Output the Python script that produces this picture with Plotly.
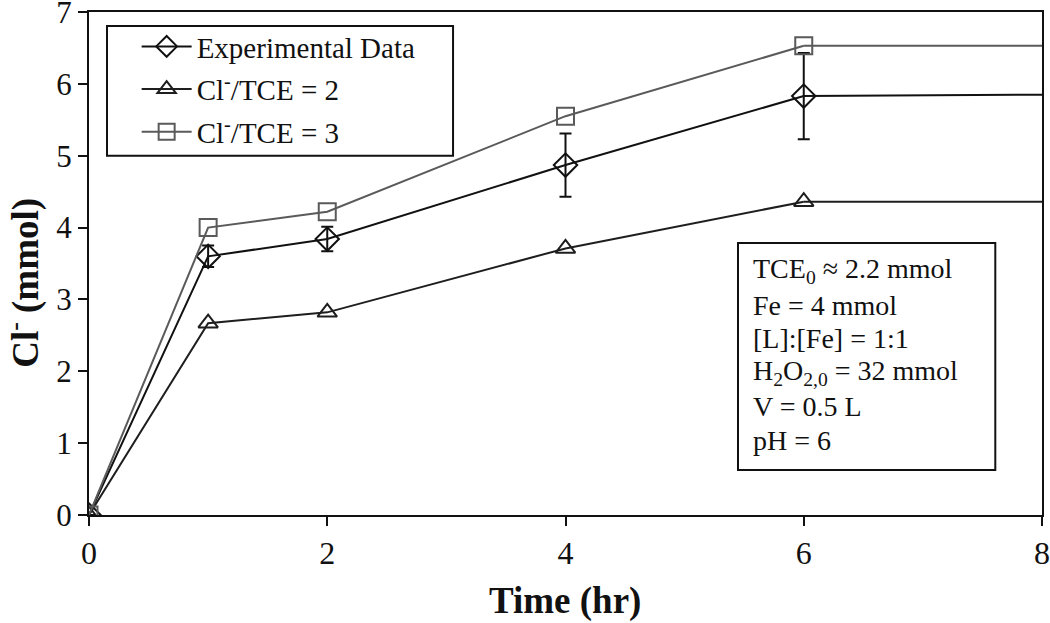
import plotly.graph_objects as go

time_pts = [0, 1, 2, 4, 6]
time_ext = [6, 8]

exp_vals = [0, 3.60, 3.84, 4.87, 5.83]
exp_err = [0, 0.15, 0.17, 0.44, 0.60]
exp_ext = [5.83, 5.85]

r2_vals = [0, 2.67, 2.82, 3.71, 4.36]
r2_ext = [4.36, 4.36]

r3_vals = [0, 4.00, 4.22, 5.55, 6.53]
r3_ext = [6.53, 6.53]

x_ticks = [0, 2, 4, 6, 8]
y_ticks = [0, 1, 2, 3, 4, 5, 6, 7]

info_lines = [
    "TCE<sub>0</sub> ≈ 2.2 mmol",
    "Fe = 4 mmol",
    "[L]:[Fe] = 1:1",
    "H<sub>2</sub>O<sub>2,0</sub> = 32 mmol",
    "V = 0.5 L",
    "pH = 6",
]

FONT = "Liberation Serif, Times New Roman, serif"
BLACK = "#111111"
DARK = "#1e1e1e"
GREY = "#5a5a5a"

fig = go.Figure()

# extension lines (no markers)
fig.add_trace(go.Scatter(x=time_ext, y=r3_ext, mode="lines", line=dict(color=GREY, width=2),
                         showlegend=False, hoverinfo="skip"))
fig.add_trace(go.Scatter(x=time_ext, y=r2_ext, mode="lines", line=dict(color=DARK, width=2),
                         showlegend=False, hoverinfo="skip"))
fig.add_trace(go.Scatter(x=time_ext, y=exp_ext, mode="lines", line=dict(color=BLACK, width=2),
                         showlegend=False, hoverinfo="skip"))

fig.add_trace(go.Scatter(
    x=time_pts, y=exp_vals, mode="lines+markers", name="Experimental Data",
    legendgroup="a",
    line=dict(color=BLACK, width=2),
    marker=dict(symbol="diamond-open", size=18, color=BLACK, line=dict(width=2, color=BLACK)),
    error_y=dict(type="data", array=exp_err, visible=True, color=BLACK, thickness=2, width=6),
))
fig.add_trace(go.Scatter(
    x=time_pts, y=r2_vals, mode="lines+markers", name="Cl<sup>-</sup>/TCE = 2",
    legendgroup="b",
    line=dict(color=DARK, width=2),
    marker=dict(symbol="triangle-up-open", size=17, color=DARK, line=dict(width=2, color=DARK)),
))
fig.add_trace(go.Scatter(
    x=time_pts, y=r3_vals, mode="lines+markers", name="Cl<sup>-</sup>/TCE = 3",
    legendgroup="c",
    line=dict(color=GREY, width=2),
    marker=dict(symbol="square-open", size=17, color=GREY, line=dict(width=2, color=GREY)),
))

# legend frame
fig.add_shape(type="rect", xref="paper", yref="paper", x0=0.0189, x1=0.382, y0=0.714, y1=0.972,
              line=dict(color=BLACK, width=2), fillcolor="white", layer="below")

# info box
fig.add_shape(type="rect", xref="paper", yref="paper", x0=0.681, x1=0.951, y0=0.0895, y1=0.541,
              line=dict(color=BLACK, width=2), fillcolor="white", layer="below")
line_ys = [0.487, 0.417, 0.350, 0.283, 0.216, 0.149]
for txt, yy in zip(info_lines, line_ys):
    fig.add_annotation(text=txt, xref="paper", yref="paper", x=0.695, y=yy,
                       xanchor="left", yanchor="middle", showarrow=False,
                       font=dict(family=FONT, size=28, color=BLACK))

# axis titles
fig.add_annotation(text="<b>Time (hr)</b>", xref="paper", yref="paper", x=0.4995, y=-0.171,
                   xanchor="center", yanchor="middle", showarrow=False,
                   font=dict(family=FONT, size=37, color=BLACK))
fig.add_annotation(text="<b>Cl<sup>-</sup> (mmol)</b>", xref="paper", yref="paper", x=-0.0685, y=0.461,
                   xanchor="center", yanchor="middle", showarrow=False, textangle=-90,
                   font=dict(family=FONT, size=37, color=BLACK))

fig.update_layout(
    width=1050, height=623,
    margin=dict(l=89, r=8, t=12, b=108, autoexpand=False),
    paper_bgcolor="white", plot_bgcolor="white",
    font=dict(family=FONT, color=BLACK),
    showlegend=True,
    legend=dict(x=0.050, y=0.982, xanchor="left", yanchor="top",
                borderwidth=0, bgcolor="rgba(0,0,0,0)",
                font=dict(family=FONT, size=29, color=BLACK),
                tracegroupgap=2, itemwidth=50),
    xaxis=dict(range=[0, 8], tickvals=x_ticks, ticks="outside", ticklen=9, tickwidth=2,
               tickcolor=BLACK, showline=True, linecolor=BLACK, linewidth=2, mirror=True,
               showgrid=False, zeroline=False, ticklabeloverflow="allow", automargin=False,
               tickfont=dict(family=FONT, size=32, color=BLACK)),
    yaxis=dict(range=[0, 7], tickvals=y_ticks, ticks="outside", ticklen=9, tickwidth=2,
               tickcolor=BLACK, showline=True, linecolor=BLACK, linewidth=2, mirror=True,
               showgrid=False, zeroline=False, ticklabeloverflow="allow", automargin=False,
               tickfont=dict(family=FONT, size=31, color=BLACK)),
)

# remove the default 8px page margin so the figure fills the window exactly
fig.write_html("out.html", config={"displayModeBar": False},
               post_script="document.body.style.margin='0';")
